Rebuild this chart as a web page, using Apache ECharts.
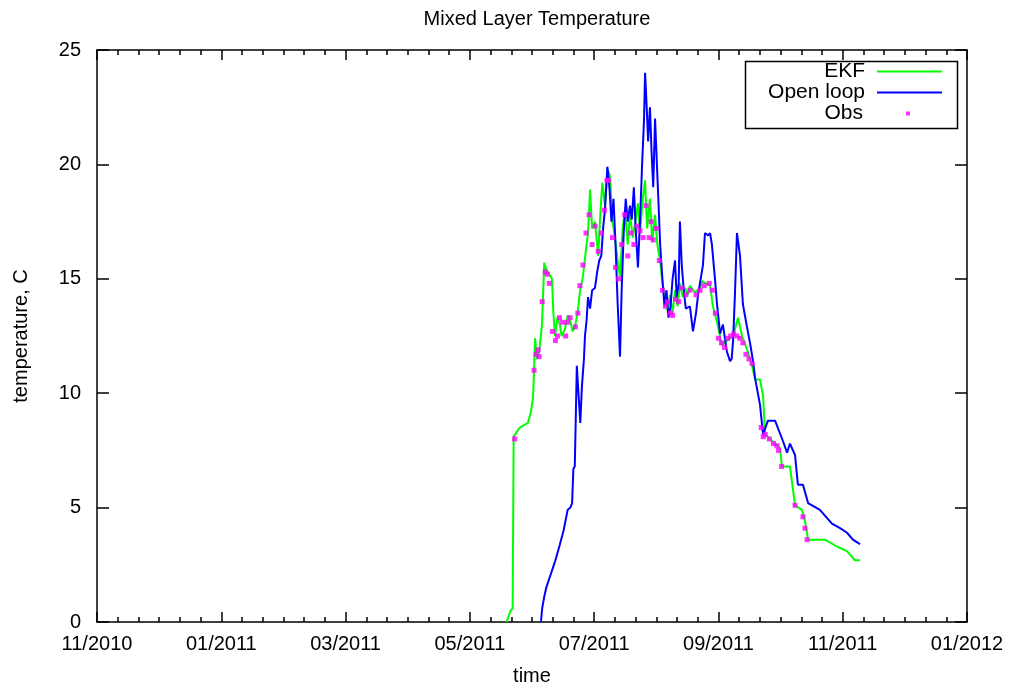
<!DOCTYPE html>
<html>
<head>
<meta charset="utf-8">
<title>Mixed Layer Temperature</title>
<script src="https://cdn.jsdelivr.net/npm/echarts@6/dist/echarts.min.js"></script>
<style>
  html, body { margin: 0; padding: 0; background: #fff; }
  #main { width: 1010px; height: 691px; }
</style>
</head>
<body>
<div id="main"></div>
<script>
// days counted from 2010-11-01
var tickLabels = ['11/2010','01/2011','03/2011','05/2011','07/2011','09/2011','11/2011','01/2012'];
var tickStep = 61;

var ekfDay = [201,203,204,204.5,206,207.5,211.5,213,214,214.5,215,216,217,218.4,219.5,220.5,222,223.3,224,224.8,
  226,227.2,228,229.7,231,232.1,233.5,234.6,236,237.1,238.5,240,241,242,243,244.4,246,247,248,249.3,
  250.5,251.8,253,254.2,255.5,256.7,258,259.1,260.5,261.6,263,264,265.5,266.5,268,269,270,271.4,272.5,273.9,
  275,276.4,277.5,278.8,280,281.2,282.5,283.7,285,286.1,287.5,288.6,290,291,293.5,296,297,300.9,302.3,304.3,
  306.7,309.2,312.2,314.6,316.6,319.5,321.5,323,325.4,326.9,327.9,330.3,335.2,336.2,340.1,342.6,346,347.5,349,357.3,
  363.2,368.1,372,374.5];
var ekfTemp = [0,0.5,0.6,8.1,8.3,8.5,8.7,9.2,9.8,11.0,12.4,11.5,11.8,13.0,15.7,15.4,15.2,15.0,13.5,12.5,
  13.3,13.0,12.5,12.8,13.4,13.2,12.7,12.9,13.6,14.5,15.1,16.3,17.0,18.9,17.2,17.5,16.0,17.8,19.2,18.2,
  19.8,19.5,17.5,16.8,15.8,15.1,17.2,18.0,16.5,17.8,16.8,17.4,18.3,17.0,18.6,19.3,17.2,18.5,16.6,17.8,
  16.5,15.8,14.8,14.2,13.6,14.3,13.5,14.5,13.8,14.8,14.2,14.6,14.3,14.7,14.4,14.6,14.9,14.7,13.8,13.1,
  12.1,12.3,12.5,13.3,12.5,11.8,11.2,10.6,10.6,9.9,8.2,8.0,7.6,6.8,6.8,5.1,4.9,4.4,3.6,3.6,
  3.3,3.1,2.7,2.7];

var openDay = [217.9,218.5,219.5,220.5,222,223.5,225,227.2,229,231,232.3,233.2,233.8,234.5,235,235.5,236.5,237.2,238,239,
  239.5,240.3,241,242,243,244.4,245.5,246.5,247.5,248.5,249.3,250.5,251.5,252.5,253.5,254.5,255.5,256.7,257.5,258.5,
  259.5,260.5,261.6,262.5,263.5,264.5,265.5,266.5,267.5,268.5,269,269.8,270.5,271.4,272.2,273,273.9,274.8,275.5,276.4,
  277.5,278.5,279.5,280.5,281.5,282.5,283.7,284.5,285.5,286.1,287,288,289,291,292.5,294,295,297.4,298.4,300,
  300.9,301.8,303.3,304.3,305.8,307.2,309.2,310.7,311.5,312.2,313.1,314.1,315.6,317,319,320.5,322,323,325.4,326.9,
  329.3,332.8,336.7,338.7,340.1,342.6,344,346.5,349,354.8,360.7,364.7,368.1,371,374.5];
var openTemp = [0,0.6,1.1,1.5,1.9,2.3,2.7,3.4,4.0,4.9,5.0,5.2,6.7,6.8,9.0,11.2,9.7,8.7,10.3,11.5,
  12.5,13.2,14.2,13.7,14.5,14.6,15.3,15.8,16.0,17.3,18.0,19.9,19.0,17.5,18.5,16.5,14.0,11.6,14.5,17.0,
  18.5,17.5,18.2,17.6,19.0,17.0,15.5,17.5,19.9,22.0,24.0,22.5,21.0,22.5,20.5,19.0,22.0,20.0,18.5,16.5,
  15.0,13.8,14.5,13.3,13.8,15.0,15.8,14.2,14.8,17.5,15.6,14.5,13.7,13.8,12.7,13.5,14.3,15.6,17.0,16.9,
  17.0,16.5,15.0,13.9,12.6,13.0,11.8,11.4,11.5,12.3,14.3,17.0,16.0,13.9,12.9,12.2,11.4,10.65,9.5,8.2,
  8.8,8.8,7.9,7.4,7.8,7.3,6.0,6.0,5.2,4.9,4.3,4.1,3.9,3.6,3.4];

var obsDay = [205,214.5,215.5,216.5,217,218.5,220,221,222,223.5,225,226,227,228.5,230,231,232.2,234.8,236,237,
  238.5,240,241.5,243,244.5,246,247.5,249,250.3,251,253,254.5,256,257.5,259,260.5,262,263.5,265,266.5,
  268,269.5,271,272,273,274.5,276,277.5,279,280,281.5,282.5,284,285.5,287,289,291,294,296,298,
  300.5,302,303.5,305,306.5,308,309.5,311,312.5,314,315.5,317,318.5,320,321.5,326,327,328,330,332,
  333.7,334.5,336,342.6,346.5,347.5,348.5];
var obsTemp = [8.0,11.0,11.7,11.9,11.6,14.0,15.3,15.2,14.8,12.7,12.3,12.5,13.3,13.1,12.5,13.1,13.3,12.9,13.5,14.7,
  15.6,17.0,17.8,16.5,17.3,16.2,17.0,18.0,19.3,19.3,16.8,15.5,15.0,16.5,17.8,16.0,17.0,16.5,17.3,17.1,
  16.8,18.2,16.8,17.5,16.7,17.2,15.8,14.5,13.8,14.0,13.5,13.4,14.1,14.0,14.6,14.3,14.5,14.3,14.5,14.7,
  14.8,14.5,13.5,12.4,12.2,12.0,12.4,12.5,12.6,12.5,12.4,12.2,11.7,11.5,11.3,8.5,8.1,8.2,8.0,7.8,
  7.7,7.5,6.8,5.1,4.6,4.1,3.6];

function zip(a, b) {
  var out = [];
  for (var i = 0; i < a.length; i++) { out.push([a[i], b[i]]); }
  return out;
}

var myChart = echarts.init(document.getElementById('main'));
var fontName = '"Liberation Sans", Arial, sans-serif';

var xBase = {
  type: 'value',
  min: 0,
  max: tickStep * (tickLabels.length - 1),
  interval: tickStep,
  axisLine: { show: true, onZero: false, lineStyle: { color: '#000', width: 1.5 } },
  axisTick: { show: true, inside: true, length: 10, lineStyle: { color: '#000', width: 1.5 } },
  minorTick: { show: true, splitNumber: 6, length: 5, lineStyle: { color: '#000', width: 1.5 } },
  splitLine: { show: false },
  axisLabel: {
    color: '#000', fontSize: 20, fontFamily: fontName, margin: 12,
    formatter: function (v) { return tickLabels[Math.round(v / tickStep)] || ''; }
  }
};
var yBase = {
  type: 'value',
  min: 0, max: 25, interval: 5,
  axisLine: { show: true, onZero: false, lineStyle: { color: '#000', width: 1.5 } },
  axisTick: { show: true, inside: true, length: 12, lineStyle: { color: '#000', width: 1.5 } },
  splitLine: { show: false },
  axisLabel: { color: '#000', fontSize: 20, fontFamily: fontName, margin: 16 }
};

var legendText = { color: '#000', fontSize: 21, fontFamily: fontName, padding: [0, 7, 0, 0] };

var option = {
  backgroundColor: '#fff',
  animation: false,
  title: {
    text: 'Mixed Layer Temperature',
    left: 532, top: 4, textAlign: 'center',
    textStyle: { color: '#000', fontSize: 20, fontWeight: 'normal', fontFamily: fontName }
  },
  grid: { left: 97, right: 43, top: 50, bottom: 66 },
  xAxis: [
    Object.assign({}, xBase, {
      position: 'bottom', name: 'time', nameLocation: 'middle', nameGap: 44,
      nameTextStyle: { color: '#000', fontSize: 20, fontFamily: fontName }
    }),
    Object.assign({}, xBase, { position: 'top', axisLabel: { show: false } })
  ],
  yAxis: [
    Object.assign({}, yBase, {
      position: 'left', name: 'temperature, C', nameLocation: 'middle', nameGap: 66,
      nameTextStyle: { color: '#000', fontSize: 20, fontFamily: fontName }
    }),
    Object.assign({}, yBase, { position: 'right', axisLabel: { show: false } })
  ],
  legend: [
    { data: [{ name: 'EKF', icon: 'rect' }], align: 'right', right: 68, top: 61, padding: 0,
      itemWidth: 65, itemHeight: 2, textStyle: legendText },
    { data: [{ name: 'Open loop', icon: 'rect' }], align: 'right', right: 68, top: 82, padding: 0,
      itemWidth: 65, itemHeight: 2, textStyle: legendText },
    { data: [{ name: 'Obs', icon: 'rect' }], align: 'right', right: 100, top: 103, padding: 0,
      itemWidth: 4, itemHeight: 4,
      textStyle: { color: '#000', fontSize: 21, fontFamily: fontName, padding: [0, 38, 0, 0] } }
  ],
  graphic: [
    { type: 'rect', left: 743, top: 59, shape: { width: 212, height: 67 },
      style: { fill: 'none', stroke: '#000', lineWidth: 1.5 }, z: 10 }
  ],
  series: [
    {
      name: 'EKF', type: 'line', data: zip(ekfDay, ekfTemp),
      showSymbol: false, symbol: 'none',
      lineStyle: { color: '#00ff00', width: 2 }, itemStyle: { color: '#00ff00' }, z: 2
    },
    {
      name: 'Open loop', type: 'line', data: zip(openDay, openTemp),
      showSymbol: false, symbol: 'none',
      lineStyle: { color: '#0000ff', width: 2 }, itemStyle: { color: '#0000ff' }, z: 3
    },
    {
      name: 'Obs', type: 'scatter', data: zip(obsDay, obsTemp),
      symbol: 'rect', symbolSize: 5,
      itemStyle: { color: '#ff00ff' }, z: 4
    }
  ]
};
myChart.setOption(option);
</script>
</body>
</html>
